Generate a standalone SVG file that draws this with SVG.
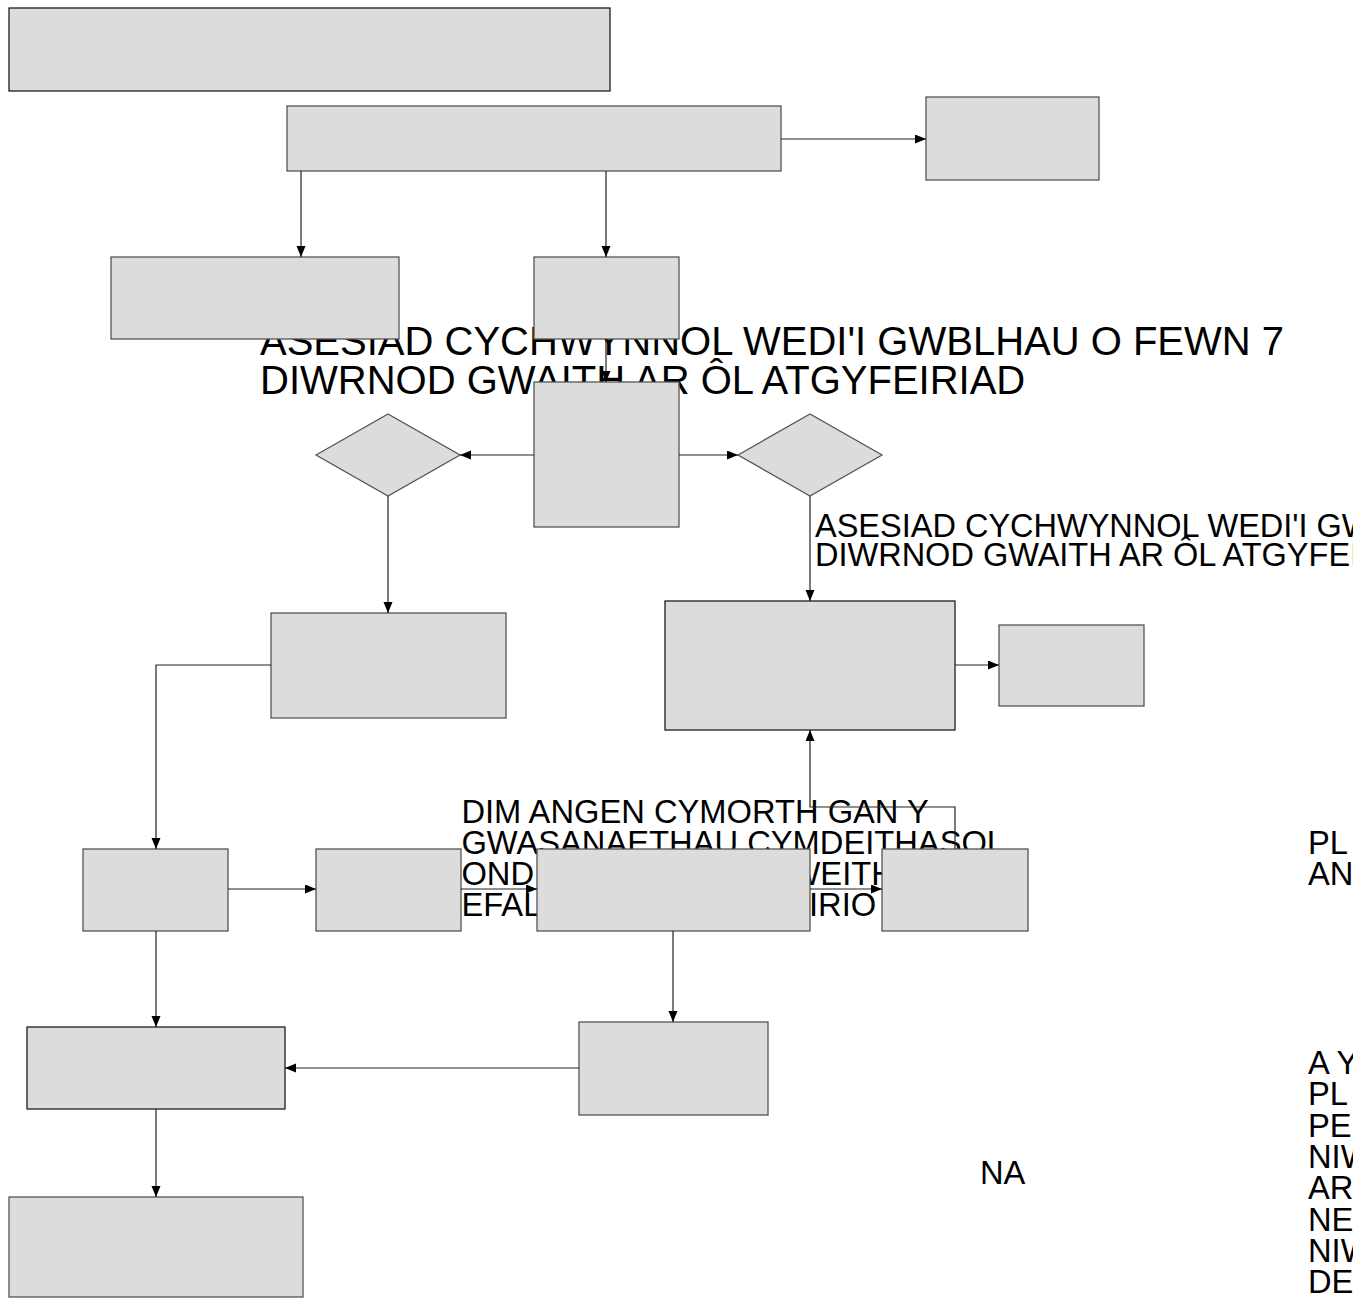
<svg xmlns="http://www.w3.org/2000/svg" width="1353" height="1298" viewBox="0 0 1353 1298">
<style>
.t{font-family:"Liberation Sans",Arial,sans-serif;fill:#000}
.bx{fill:#dcdcdc;stroke:#555;stroke-width:1.3}
.bd{fill:#dcdcdc;stroke:#1e1e1e;stroke-width:1.3}
.c{fill:none;stroke:#222;stroke-width:1.2}
</style>
<defs>
<marker id="ah" markerUnits="userSpaceOnUse" markerWidth="12" markerHeight="10" refX="11" refY="4.5" orient="auto">
<path d="M0,0 L11,4.5 L0,9 z" fill="#000"/>
</marker>
</defs>
<rect width="1353" height="1298" fill="#fff"/>
<g id="labels">
<text class="t" font-size="40"><tspan x="260" y="355">ASESIAD CYCHWYNNOL WEDI'I GWBLHAU O FEWN 7</tspan><tspan x="260" y="394">DIWRNOD GWAITH AR ÔL ATGYFEIRIAD</tspan></text>
<text class="t" font-size="32.5"><tspan x="815" y="537">ASESIAD CYCHWYNNOL WEDI'I GWBLHAU O FEWN 7</tspan><tspan x="815" y="566">DIWRNOD GWAITH AR ÔL ATGYFEIRIAD</tspan></text>
<text class="t" font-size="32.7"><tspan x="461.4" y="823">DIM ANGEN CYMORTH GAN Y</tspan><tspan x="461.4" y="854">GWASANAETHAU CYMDEITHASOL</tspan><tspan x="461.4" y="885">OND</tspan><tspan x="789.5" y="885">WEITH</tspan><tspan x="461.4" y="916">EFAL</tspan><tspan x="809" y="916">IRIO</tspan></text>
<text class="t" font-size="32.7"><tspan x="1308" y="854">PL</tspan><tspan x="1308" y="885">AN</tspan></text>
<text class="t" font-size="32.7" x="980" y="1184">NA</text>
<text class="t" font-size="32.7"><tspan x="1308" y="1074">A Y</tspan><tspan x="1308" y="1105">PL</tspan><tspan x="1308" y="1137">PE</tspan><tspan x="1308" y="1168">NIW</tspan><tspan x="1308" y="1199">AR</tspan><tspan x="1308" y="1231">NE</tspan><tspan x="1308" y="1262">NIW</tspan><tspan x="1308" y="1293">DE</tspan></text>
</g>
<g id="n1"><rect class="bd" x="9" y="8" width="601" height="83"/></g>
<g id="n2"><rect class="bx" x="287" y="106" width="494" height="65"/></g>
<g id="n3"><rect class="bx" x="926" y="97" width="173" height="83"/></g>
<g id="n4"><rect class="bx" x="111" y="257" width="288" height="82"/></g>
<g id="n5"><rect class="bx" x="534" y="257" width="145" height="82"/></g>
<g id="n6"><rect class="bx" x="534" y="382" width="145" height="145"/></g>
<g id="n7"><polygon class="bx" points="316,455 388,414 460,455 388,496"/></g>
<g id="n8"><polygon class="bx" points="738,455 810,414 882,455 810,496"/></g>
<g id="n9"><rect class="bx" x="271" y="613" width="235" height="105"/></g>
<g id="n10"><rect class="bd" x="665" y="601" width="290" height="129"/></g>
<g id="n11"><rect class="bx" x="999" y="625" width="145" height="81"/></g>
<g id="n12"><rect class="bx" x="83" y="849" width="145" height="82"/></g>
<g id="n13"><rect class="bx" x="316" y="849" width="145" height="82"/></g>
<g id="n14"><rect class="bx" x="537" y="849" width="273" height="82"/></g>
<g id="n15"><rect class="bx" x="882" y="849" width="146" height="82"/></g>
<g id="n16"><rect class="bd" x="27" y="1027" width="258" height="82"/></g>
<g id="n17"><rect class="bx" x="579" y="1022" width="189" height="93"/></g>
<g id="n18"><rect class="bx" x="9" y="1197" width="294" height="100"/></g>
<g id="connectors">
<path class="c" marker-end="url(#ah)" d="M781,139 H926"/>
<path class="c" marker-end="url(#ah)" d="M301,171 V257"/>
<path class="c" marker-end="url(#ah)" d="M606,171 V257"/>
<path class="c" marker-end="url(#ah)" d="M606,339 V382"/>
<path class="c" marker-end="url(#ah)" d="M534,455 H460"/>
<path class="c" marker-end="url(#ah)" d="M679,455 H738"/>
<path class="c" marker-end="url(#ah)" d="M388,496 V613"/>
<path class="c" marker-end="url(#ah)" d="M810,496 V601"/>
<path class="c" marker-end="url(#ah)" d="M955,665 H999"/>
<path class="c" marker-end="url(#ah)" d="M271,665 H156 V849"/>
<path class="c" marker-end="url(#ah)" d="M228,889 H316"/>
<path class="c" marker-end="url(#ah)" d="M461,889 H537"/>
<path class="c" marker-end="url(#ah)" d="M810,889 H882"/>
<path class="c" marker-end="url(#ah)" d="M955,849 V807 H810 V730"/>
<path class="c" marker-end="url(#ah)" d="M673,931 V1022"/>
<path class="c" marker-end="url(#ah)" d="M156,931 V1027"/>
<path class="c" marker-end="url(#ah)" d="M579,1068 H285"/>
<path class="c" marker-end="url(#ah)" d="M156,1109 V1197"/>
</g>
</svg>
